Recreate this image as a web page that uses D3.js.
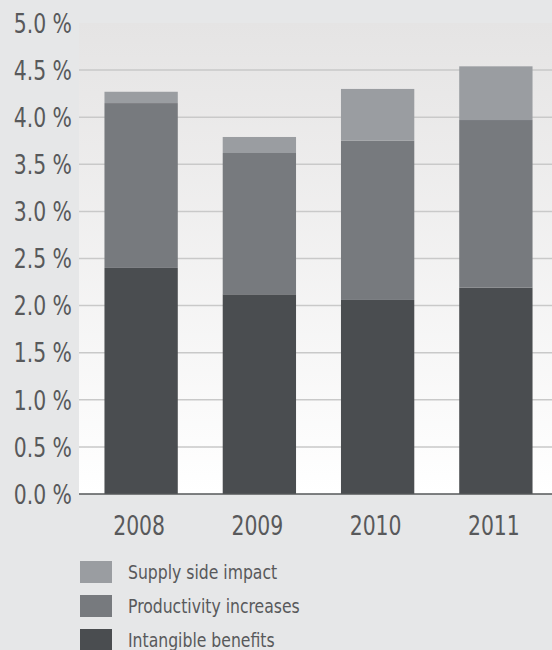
<!DOCTYPE html>
<html><head><meta charset="utf-8">
<script src="https://cdn.jsdelivr.net/npm/d3@7"></script>
<style>
html,body{margin:0;padding:0;background:#e6e7e8;}
svg{display:block;}
text{font-family:"Liberation Sans Narrow","DejaVu Sans Condensed","Liberation Sans",sans-serif;fill:#58595b;}
</style></head>
<body>
<script>
const years = ["2008","2009","2010","2011"];
const intangible = [2.40, 2.12, 2.06, 2.19];
const productivity = [1.75, 1.50, 1.69, 1.78];
const supply = [0.12, 0.17, 0.55, 0.57];
const seriesNames = ["Intangible benefits","Productivity increases","Supply side impact"];
const seriesColors = ["#4a4d50","#777a7e","#9a9da1"];
const yTicks = [0,0.5,1,1.5,2,2.5,3,3.5,4,4.5,5];

const W = 552, H = 650;
const plot = {left:79, right:552, top:23, bottom:494};
const SX = 0.84; // horizontal condensing of labels
const svg = d3.select("body").append("svg").attr("width",W).attr("height",H);

const defs = svg.append("defs");
const grad = defs.append("linearGradient").attr("id","bg").attr("x1",0).attr("y1",0).attr("x2",0).attr("y2",1);
grad.append("stop").attr("offset","0%").attr("stop-color","#e5e4e4");
grad.append("stop").attr("offset","100%").attr("stop-color","#ffffff");

svg.append("rect").attr("x",plot.left).attr("y",plot.top)
  .attr("width",plot.right-plot.left).attr("height",plot.bottom-plot.top)
  .attr("fill","url(#bg)");

const y = d3.scaleLinear().domain([0,5]).range([plot.bottom, plot.top]);
const x = d3.scaleBand().domain(years).range([82,555]).paddingInner(0.38).paddingOuter(0.19);

// gridlines
svg.append("g").selectAll("line").data(yTicks.filter(t=>t>0 && t<5)).join("line")
  .attr("x1",plot.left).attr("x2",plot.right)
  .attr("y1",d=>y(d)).attr("y2",d=>y(d))
  .attr("stroke","#c9c9c9").attr("stroke-width",1.5);

// stacked bars
const rows = years.map((yr,i)=>({year:yr, a:intangible[i], b:productivity[i], c:supply[i]}));
const stack = d3.stack().keys(["a","b","c"])(rows);
svg.append("g").selectAll("g").data(stack).join("g")
  .attr("fill",(d,i)=>seriesColors[i])
  .selectAll("rect").data(d=>d).join("rect")
  .attr("x",d=>x(d.data.year)).attr("width",x.bandwidth())
  .attr("y",d=>y(d[1])).attr("height",d=>y(d[0])-y(d[1]));

// baseline axis
svg.append("line").attr("x1",plot.left).attr("x2",plot.right)
  .attr("y1",y(0)).attr("y2",y(0)).attr("stroke","#555759").attr("stroke-width",1.5);

// y tick labels
svg.append("g").selectAll("text").data(yTicks).join("text")
  .attr("transform",d=>`translate(72,${y(d)}) scale(${SX},1)`)
  .attr("dy","0.36em")
  .attr("text-anchor","end").attr("font-size",27)
  .text(d=>d3.format(".1f")(d)+" %");

// x labels
svg.append("g").selectAll("text").data(years).join("text")
  .attr("transform",d=>`translate(${x(d)+x.bandwidth()/2-2},535) scale(${SX},1)`)
  .attr("text-anchor","middle").attr("font-size",27)
  .text(d=>d);

// legend
const legOrder = [2,1,0];
const leg = svg.append("g").selectAll("g").data(legOrder).join("g")
  .attr("transform",(d,i)=>`translate(80,${561+i*34})`);
leg.append("rect").attr("width",32).attr("height",22).attr("fill",d=>seriesColors[d]);
leg.append("text").attr("transform","translate(48,11) scale(0.87,1)").attr("dy","0.36em").attr("font-size",20)
  .text(d=>seriesNames[d]);
</script>
</body></html>
